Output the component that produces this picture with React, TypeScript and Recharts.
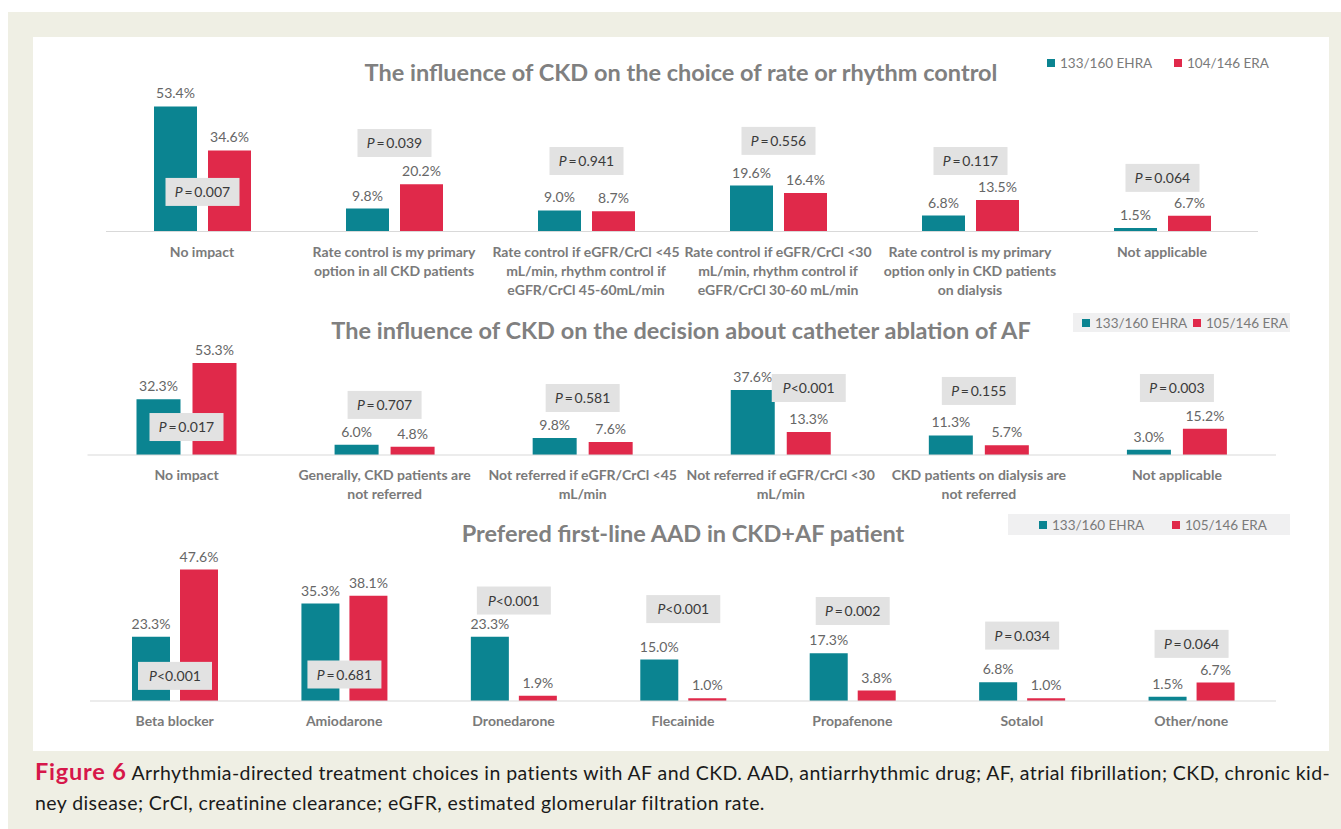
import React from 'react';
import { BarChart, Bar, XAxis, YAxis, LabelList } from 'recharts';

const TEAL = '#0b8491';
const RED = '#e0294a';
const FONT = 'Lato, "Open Sans", sans-serif';

// panel 1: rate or rhythm control
const rateCats = [
  'No impact',
  'Rate control is my primary\noption in all CKD patients',
  'Rate control if eGFR/CrCl <45\nmL/min, rhythm control if\neGFR/CrCl 45-60mL/min',
  'Rate control if eGFR/CrCl <30\nmL/min, rhythm control if\neGFR/CrCl 30-60 mL/min',
  'Rate control is my primary\noption only in CKD patients\non dialysis',
  'Not applicable',
];
const rateEhra = [53.4, 9.8, 9.0, 19.6, 6.8, 1.5];
const rateEra = [34.6, 20.2, 8.7, 16.4, 13.5, 6.7];
const rateP = ['=0.007', '=0.039', '=0.941', '=0.556', '=0.117', '=0.064'];
const rateSeries = ['133/160 EHRA', '104/146 ERA'];

// panel 2: catheter ablation
const ablCats = [
  'No impact',
  'Generally, CKD patients are\nnot referred',
  'Not referred if eGFR/CrCl <45\nmL/min',
  'Not referred if eGFR/CrCl <30\nmL/min',
  'CKD patients on dialysis are\nnot referred',
  'Not applicable',
];
const ablEhra = [32.3, 6.0, 9.8, 37.6, 11.3, 3.0];
const ablEra = [53.3, 4.8, 7.6, 13.3, 5.7, 15.2];
const ablP = ['=0.017', '=0.707', '=0.581', '<0.001', '=0.155', '=0.003'];
const ablSeries = ['133/160 EHRA', '105/146 ERA'];

// panel 3: first-line AAD
const aadCats = ['Beta blocker', 'Amiodarone', 'Dronedarone', 'Flecainide', 'Propafenone', 'Sotalol', 'Other/none'];
const aadEhra = [23.3, 35.3, 23.3, 15.0, 17.3, 6.8, 1.5];
const aadEra = [47.6, 38.1, 1.9, 1.0, 3.8, 1.0, 6.7];
const aadP = ['<0.001', '=0.681', '<0.001', '<0.001', '=0.002', '=0.034', '=0.064'];
const aadSeries = ['133/160 EHRA', '105/146 ERA'];

// where each P box sits, in % of the value axis, and which bar it hangs over (-1 teal, 0 middle, 1 red)
const rateAt = [16.9, 37.8, 30.1, 38.7, 30.1, 22.9];
const rateSide = [0, 0, 0, 0, 0, 0];
const ablAt = [16.2, 29, 33, 38.8, 37.1, 38.8];
const ablSide = [0, 0, 0, 1, 0, 0];
const aadAt = [9.1, 9.6, 36.4, 33.3, 32.6, 23.7, 20.7];
const aadSide = [0, 0, 0, 0, 0, 0, 0];

const fmt = (v: any) => `${Number(v).toFixed(1)}%`;

const CatTick = (props: any) => {
  const { x, y, payload } = props;
  const lines = String(payload.value).split('\n');
  return (
    <text x={x} y={y} textAnchor="middle" fontFamily={FONT} fontSize={14} fontWeight={700} fill="#7a7a7a">
      {lines.map((l, i) => (
        <tspan key={i} x={x} dy={i === 0 ? 25 : 19}>{l}</tspan>
      ))}
    </text>
  );
};

interface PanelProps {
  cats: string[];
  ehra: number[];
  era: number[];
  p: string[];
  at: number[];
  side: number[];
  series: string[];
  top: number;
  height: number;
  margin: { top: number; right: number; bottom: number; left: number };
  axisHeight: number;
  barSize: number;
  barGap: number;
}

function Panel({ cats, ehra, era, p, at, side, series, top, height, margin, axisHeight, barSize, barGap }: PanelProps) {
  const rows = cats.map((c, i) => ({ cat: c, ehra: ehra[i], era: era[i] }));

  const PBox = (props: any) => {
    const vb = props.viewBox || props;
    const i = cats.indexOf(props.value);
    if (i < 0 || !vb) return null;
    const { x, y, width, height: h } = vb;
    const base = y + h;
    const perUnit = h / era[i];
    let cx = x - barGap / 2;
    if (side[i] === 1) cx = x + width / 2;
    if (side[i] === -1) cx = x - barGap - barSize / 2;
    const cy = base - at[i] * perUnit;
    const op = p[i][0];
    const num = p[i].slice(1);
    return (
      <g>
        <rect x={cx - 37} y={cy - 14} width={74} height={28} fill="#e2e2e2" />
        <text x={cx} y={cy + 5} textAnchor="middle" fontFamily={FONT} fontSize={14} fill="#3a3a3a">
          <tspan fontStyle="italic">P</tspan>
          <tspan>{op === '=' ? `\u2009=\u2009${num}` : `<${num}`}</tspan>
        </text>
      </g>
    );
  };

  return (
    <div style={{ position: 'absolute', left: 0, top }}>
      <BarChart width={1341} height={height} data={rows} margin={margin} barGap={barGap}>
        <XAxis
          dataKey="cat"
          interval={0}
          height={axisHeight}
          tickLine={false}
          tickSize={0}
          tickMargin={0}
          axisLine={{ stroke: '#d9d9d9' }}
          tick={<CatTick />}
        />
        <YAxis hide type="number" domain={[0, 60]} />
        <Bar dataKey="ehra" name={series[0]} fill={TEAL} barSize={barSize} isAnimationActive={false}>
          <LabelList dataKey="ehra" position="top" offset={8} formatter={fmt} fill="#666" fontSize={14} fontFamily={FONT} />
        </Bar>
        <Bar dataKey="era" name={series[1]} fill={RED} barSize={barSize} isAnimationActive={false}>
          <LabelList dataKey="era" position="top" offset={8} formatter={fmt} fill="#666" fontSize={14} fontFamily={FONT} />
          <LabelList dataKey="cat" content={<PBox />} />
        </Bar>
      </BarChart>
    </div>
  );
}

function Key({ labels, y, sq, boxed }: { labels: string[]; y: number; sq: number[]; boxed?: number[] }) {
  return (
    <>
      {boxed && (
        <div style={{ position: 'absolute', left: boxed[0], top: boxed[1], width: boxed[2], height: boxed[3], background: '#f0f0f1' }} />
      )}
      {labels.map((l, i) => (
        <div key={i} style={{ position: 'absolute', left: sq[i], top: y - 10, height: 20, display: 'flex', alignItems: 'center', fontFamily: FONT, fontSize: 13.5, color: '#7a7a7a', whiteSpace: 'nowrap' }}>
          <span style={{ display: 'inline-block', width: 8, height: 8, background: i === 0 ? TEAL : RED, marginRight: 5 }} />
          {l}
        </div>
      ))}
    </>
  );
}

const titleStyle = (y: number): React.CSSProperties => ({
  position: 'absolute', left: 0, width: 1362, top: y - 15, height: 30, lineHeight: '30px', textAlign: 'center',
  fontFamily: FONT, fontWeight: 700, fontSize: 23.5, color: '#808080', whiteSpace: 'nowrap',
});

export default function App() {
  return (
    <div style={{ position: 'absolute', left: 0, top: 0, width: 1341, height: 829, background: '#fff', overflow: 'hidden' }}>
      <div style={{ position: 'absolute', left: 8, top: 12, width: 1333, height: 817, background: '#efefe4' }} />
      <div style={{ position: 'absolute', left: 33, top: 37, width: 1296, height: 714, background: '#fff' }} />

      <div style={titleStyle(72)}>The influence of CKD on the choice of rate or rhythm control</div>
      <div style={titleStyle(330)}>The influence of CKD on the decision about catheter ablation of AF</div>
      <div style={{ ...titleStyle(533), width: 1366 }}>Prefered first-line AAD in CKD+AF patient</div>

      <Key labels={rateSeries} y={63} sq={[1047, 1174]} />
      <Key labels={ablSeries} y={322.5} sq={[1082, 1193]} boxed={[1073, 313, 217, 19]} />
      <Key labels={aadSeries} y={524.5} sq={[1039, 1172]} boxed={[1008, 514, 282, 21]} />

      <Panel cats={rateCats} ehra={rateEhra} era={rateEra} p={rateP} at={rateAt} side={rateSide} series={rateSeries}
        top={40} height={265} margin={{ top: 51, right: 83, bottom: 13.5, left: 106 }} axisHeight={60} barSize={43} barGap={11} />
      <Panel cats={ablCats} ehra={ablEhra} era={ablEra} p={ablP} at={ablAt} side={ablSide} series={ablSeries}
        top={300} height={210} margin={{ top: 51.4, right: 65, bottom: 10, left: 87.5 }} axisHeight={45} barSize={44} barGap={12} />
      <Panel cats={aadCats} ehra={aadEhra} era={aadEra} p={aadP} at={aadAt} side={aadSide} series={aadSeries}
        top={505} height={240} margin={{ top: 30.4, right: 65, bottom: 10, left: 90 }} axisHeight={34} barSize={38} barGap={10} />

      <div style={{ position: 'absolute', left: 35, top: 756, width: 1300, fontFamily: FONT, fontSize: 19.5, letterSpacing: 0.42, color: '#1a1a1a', whiteSpace: 'nowrap', lineHeight: '30px' }}>
        <div>
          <span style={{ color: '#d6174a', fontWeight: 700, fontSize: 23.5, letterSpacing: 0.8 }}>Figure 6</span>
          {'  Arrhythmia-directed treatment choices in patients with AF and CKD. AAD, antiarrhythmic drug; AF, atrial fibrillation; CKD, chronic kid-'}
        </div>
        <div>ney disease; CrCl, creatinine clearance; eGFR, estimated glomerular filtration rate.</div>
      </div>
    </div>
  );
}
